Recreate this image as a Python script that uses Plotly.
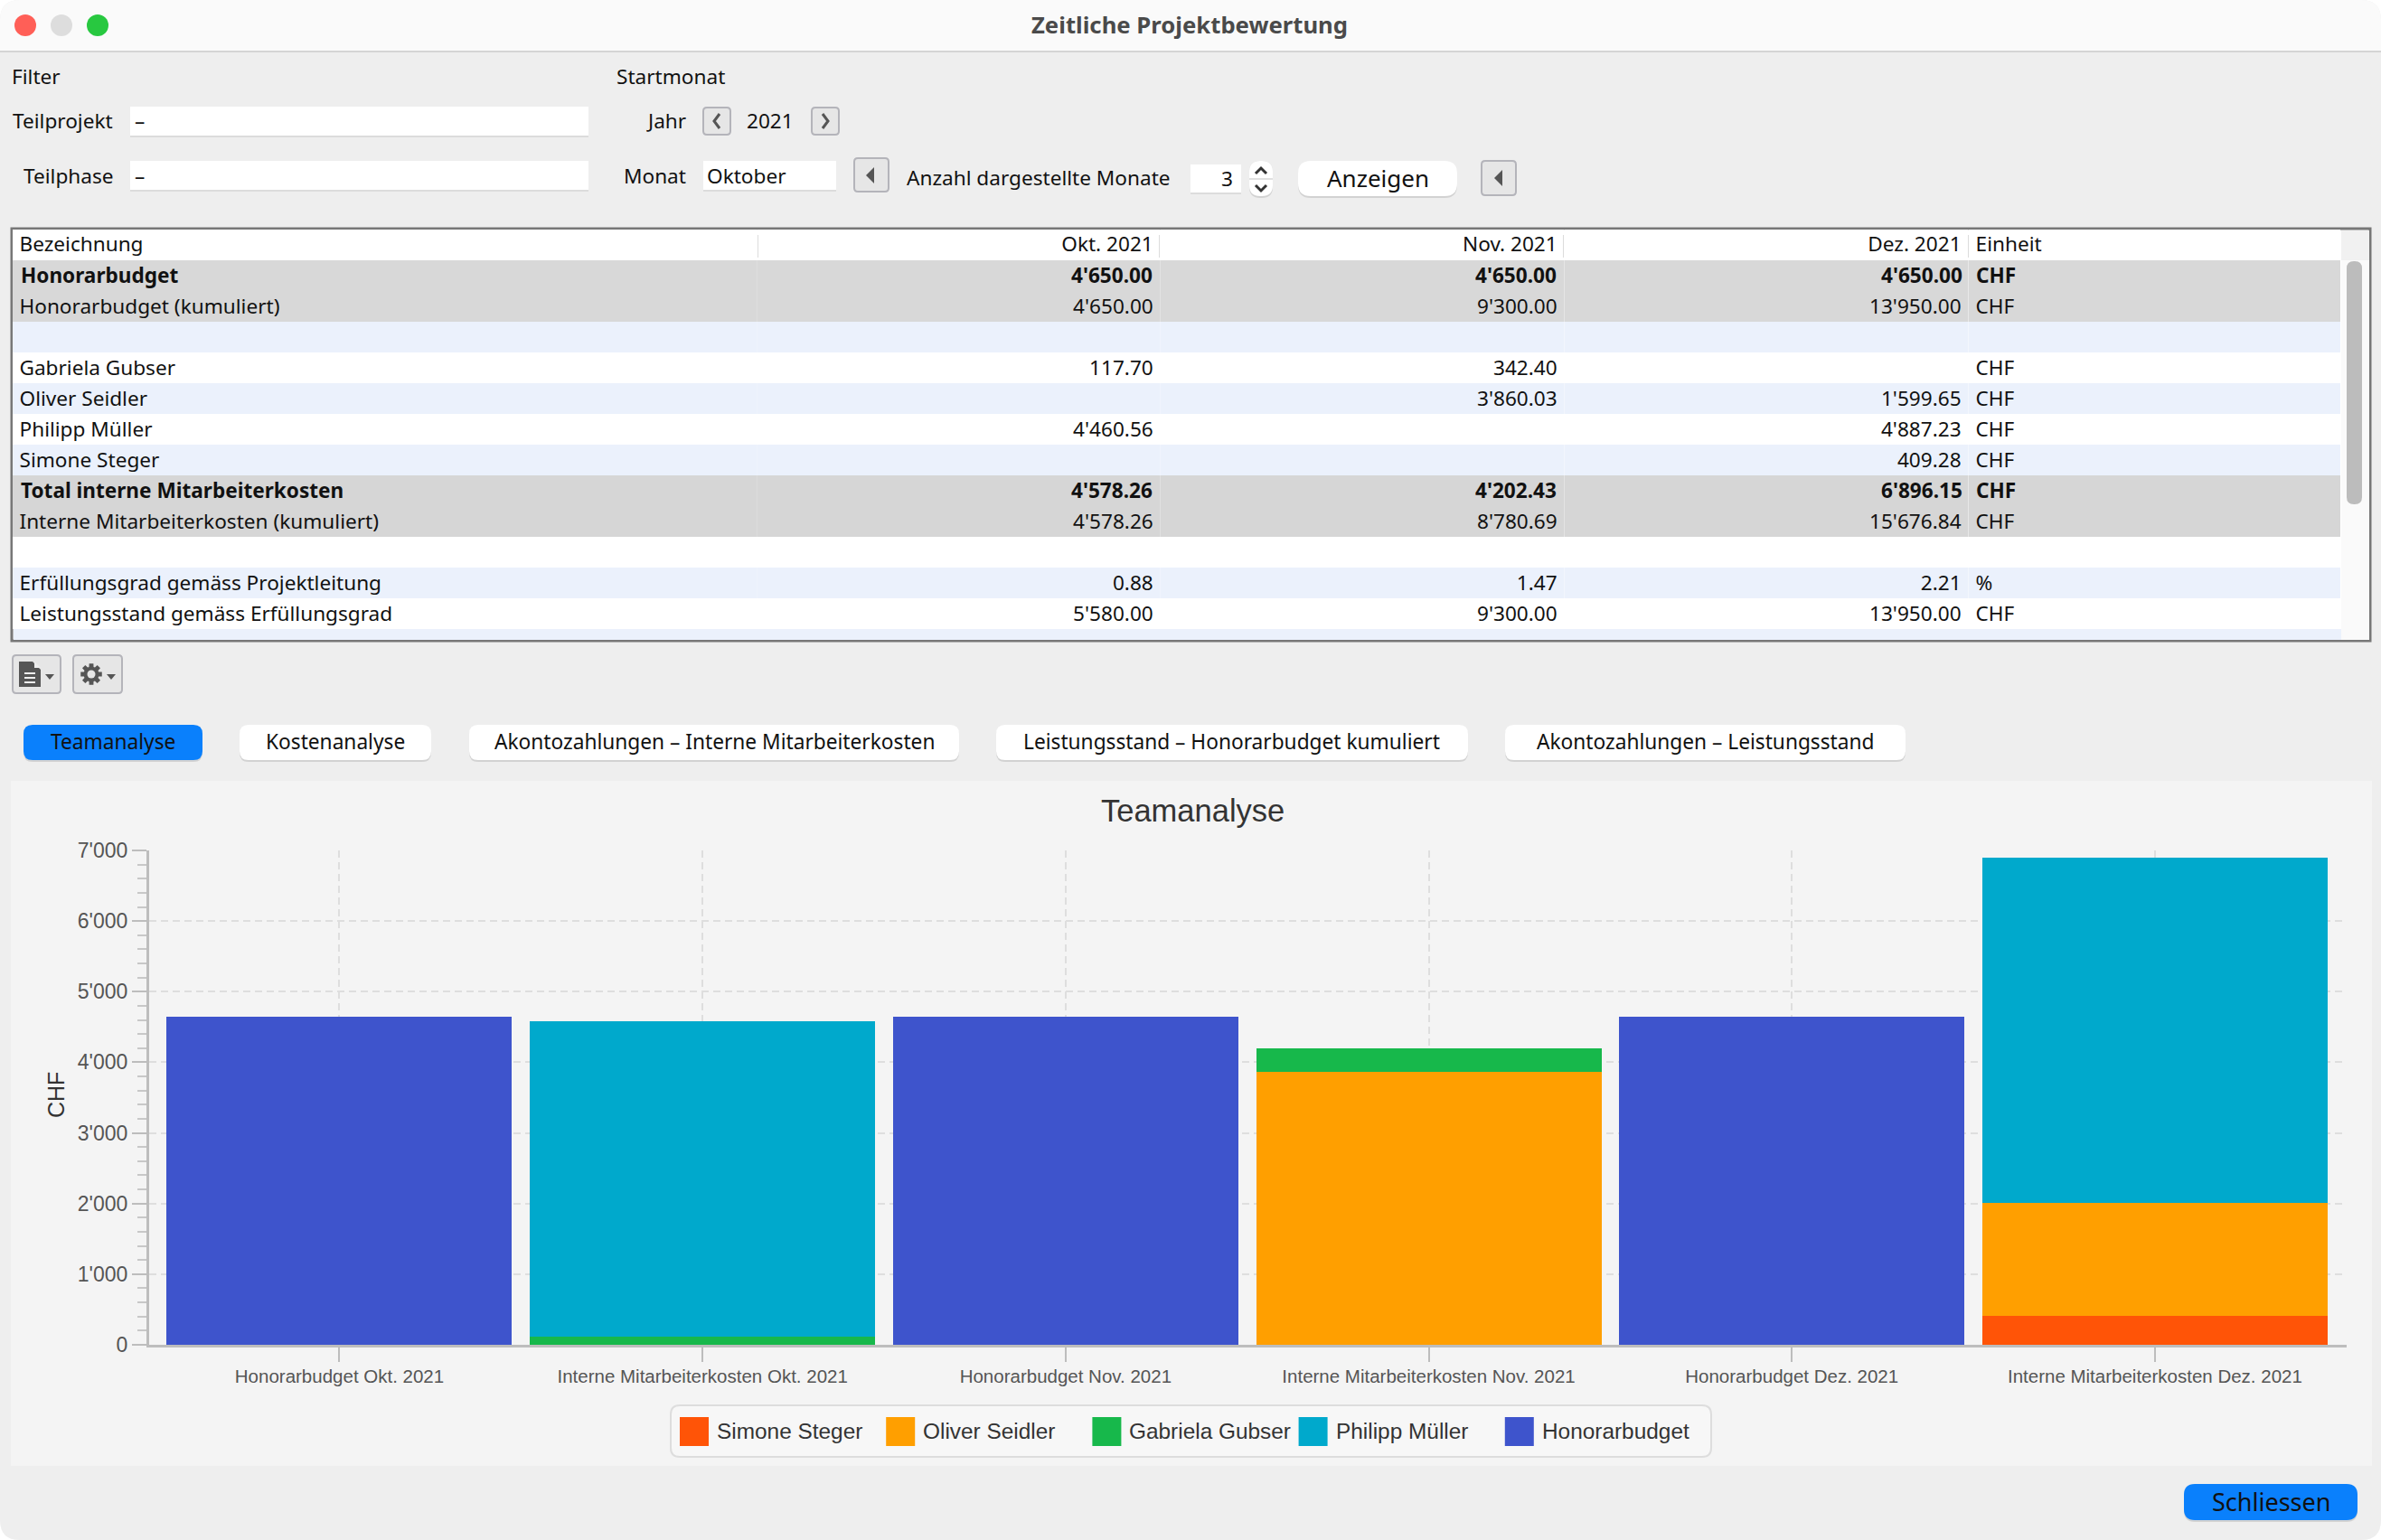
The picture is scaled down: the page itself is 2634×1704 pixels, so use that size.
"""Zeitliche Projektbewertung: dialog window with table and stacked bar chart."""

import math

import plotly.graph_objects as go

WIDTH = 2634
HEIGHT = 1704

# Chart data
bar_labels = [
    'Honorarbudget Okt. 2021', 'Interne Mitarbeiterkosten Okt. 2021',
    'Honorarbudget Nov. 2021', 'Interne Mitarbeiterkosten Nov. 2021',
    'Honorarbudget Dez. 2021', 'Interne Mitarbeiterkosten Dez. 2021',
]
simone_steger = [None, None, None, None, None, 409.28]
oliver_seidler = [None, None, None, 3860.03, None, 1599.65]
gabriela_gubser = [None, 117.70, None, 342.40, None, None]
philipp_mueller = [None, 4460.56, None, None, None, 4887.23]
honorarbudget = [4650.00, None, 4650.00, None, 4650.00, None]

series_names = ['Simone Steger', 'Oliver Seidler', 'Gabriela Gubser',
                'Philipp Müller', 'Honorarbudget']
series_values = [simone_steger, oliver_seidler, gabriela_gubser,
                 philipp_mueller, honorarbudget]
series_colors = ['#FF5407', '#FF9F00', '#17B84B', '#00A9CC', '#3E54CC']

# Table data
table_header = ['Bezeichnung', 'Okt. 2021', 'Nov. 2021', 'Dez. 2021', 'Einheit']
table_names = [
    'Honorarbudget', 'Honorarbudget (kumuliert)', '', 'Gabriela Gubser',
    'Oliver Seidler', 'Philipp Müller', 'Simone Steger',
    'Total interne Mitarbeiterkosten', 'Interne Mitarbeiterkosten (kumuliert)',
    '', 'Erfüllungsgrad gemäss Projektleitung',
    'Leistungsstand gemäss Erfüllungsgrad',
]
table_okt = ["4'650.00", "4'650.00", '', '117.70', '', "4'460.56", '',
             "4'578.26", "4'578.26", '', '0.88', "5'580.00"]
table_nov = ["4'650.00", "9'300.00", '', '342.40', "3'860.03", '', '',
             "4'202.43", "8'780.69", '', '1.47', "9'300.00"]
table_dez = ["4'650.00", "13'950.00", '', '', "1'599.65", "4'887.23", '409.28',
             "6'896.15", "15'676.84", '', '2.21', "13'950.00"]
table_unit = ['CHF', 'CHF', '', 'CHF', 'CHF', 'CHF', 'CHF', 'CHF', 'CHF', '',
              '%', 'CHF']
bold_rows = [0, 7]
row_fills = ['#D8D8D8', '#D8D8D8', '#EBF1FC', '#FFFFFF', '#EBF1FC', '#FFFFFF',
             '#EBF1FC', '#D6D6D6', '#D6D6D6', '#FFFFFF', '#EBF1FC', '#FFFFFF']

UI_FONT = 'Noto Sans'
CHART_FONT = 'Liberation Sans'

shapes = []
annotations = []


def fx(x):
    return x / WIDTH


def fy(y):
    return 1 - y / HEIGHT


def rounded_path(x0, y0, x1, y1, r):
    return (
        f'M{fx(x0 + r)},{fy(y0)} L{fx(x1 - r)},{fy(y0)} '
        f'Q{fx(x1)},{fy(y0)} {fx(x1)},{fy(y0 + r)} '
        f'L{fx(x1)},{fy(y1 - r)} Q{fx(x1)},{fy(y1)} {fx(x1 - r)},{fy(y1)} '
        f'L{fx(x0 + r)},{fy(y1)} Q{fx(x0)},{fy(y1)} {fx(x0)},{fy(y1 - r)} '
        f'L{fx(x0)},{fy(y0 + r)} Q{fx(x0)},{fy(y0)} {fx(x0 + r)},{fy(y0)} Z'
    )


def poly_path(points, close=True):
    path = ' '.join(('M' if i == 0 else 'L') + f'{fx(x)},{fy(y)}'
                    for i, (x, y) in enumerate(points))
    return path + (' Z' if close else '')


def add_rect(x0, y0, x1, y1, fill, r=0, line=None, width=0, layer='below'):
    shapes.append(dict(
        type='path', xref='paper', yref='paper', layer=layer,
        path=rounded_path(x0, y0, x1, y1, r), fillcolor=fill,
        line=dict(color=line or fill, width=width),
    ))


def add_poly(points, fill=None, line=None, width=0, layer='above'):
    closed = fill is not None
    shapes.append(dict(
        type='path', xref='paper', yref='paper', layer=layer,
        path=poly_path(points, close=closed),
        fillcolor=fill if closed else 'rgba(0,0,0,0)',
        line=dict(color=line or 'rgba(0,0,0,0)', width=width),
    ))


def add_circle(cx, cy, r, fill, layer='below'):
    shapes.append(dict(
        type='circle', xref='paper', yref='paper', layer=layer,
        x0=fx(cx - r), x1=fx(cx + r), y0=fy(cy + r), y1=fy(cy - r),
        fillcolor=fill, line=dict(width=0),
    ))


def add_text(x, y, text, size=22.6, color='#111111', anchor='left',
             family=UI_FONT):
    annotations.append(dict(
        xref='paper', yref='paper', x=fx(x), y=fy(y), text=text,
        showarrow=False, xanchor=anchor, yanchor='middle', borderpad=0,
        font=dict(family=family, size=size, color=color),
    ))


def add_button(x0, y0, x1, y1, text, fill='#FFFFFF', r=10, size=22.7):
    add_rect(x0, y0 + 2, x1, y1 + 2, '#D2D2D2', r=r)
    add_rect(x0, y0, x1, y1, fill, r=r)
    add_text((x0 + x1) / 2, (y0 + y1) / 2 - 1, text, size=size, anchor='center')


def add_square_button(x0, y0, x1, y1):
    add_rect(x0, y0, x1, y1, '#E6E6E6', r=4, line='#B4B4BA', width=2)


def add_left_arrow(cx, cy):
    add_poly([(cx + 4, cy - 9), (cx + 4, cy + 9), (cx - 5, cy)], fill='#555555')


def add_gear(cx, cy):
    points = []
    for tooth in range(8):
        angle = tooth * math.pi / 4
        for offset, radius in [(-0.30, 8.5), (-0.20, 12), (0.20, 12), (0.30, 8.5)]:
            points.append((cx + radius * math.cos(angle + offset),
                           cy + radius * math.sin(angle + offset)))
    add_poly(points, fill='#555555')
    add_circle(cx, cy, 4.5, '#E6E6E6', layer='above')


# Window
add_rect(0, 0, WIDTH, HEIGHT, '#EEEEEE', r=22)
add_rect(0, 0, WIDTH, 57, '#FAFAFA', r=22)
add_rect(0, 30, WIDTH, 57, '#FAFAFA')
add_rect(0, 56, WIDTH, 58, '#D4D4D4')
add_circle(28, 28, 12, '#FF5F57')
add_circle(68, 28, 12, '#DDDDDD')
add_circle(108, 28, 12, '#28C840')
add_text(1316, 27, '<b>Zeitliche Projektbewertung</b>', size=25.7,
         color='#4A4A4A', anchor='center')

# Filter area
add_text(12, 84, 'Filter')
add_text(681, 84, 'Startmonat')
add_text(126, 134, 'Teilprojekt', anchor='right')
add_text(126, 194, 'Teilphase', anchor='right')
for y0, y1 in [(118, 150), (178, 210)]:
    add_rect(144, y0, 651, y1 + 2, '#DCDCDC')
    add_rect(144, y0, 651, y1, '#FFFFFF')
    add_text(148, (y0 + y1) / 2, '–')
add_text(760, 134, 'Jahr', anchor='right')
add_square_button(778, 119, 808, 149)
add_poly([(796, 126), (790, 134), (796, 142)], line='#555555', width=3)
add_text(852, 134, '2021', anchor='center')
add_square_button(898, 119, 928, 149)
add_poly([(910, 126), (916, 134), (910, 142)], line='#555555', width=3)
add_text(760, 194, 'Monat', anchor='right')
add_rect(778, 178, 925, 212, '#DCDCDC')
add_rect(778, 178, 925, 210, '#FFFFFF')
add_text(781, 194, 'Oktober')
add_square_button(945, 175, 983, 212)
add_left_arrow(963, 194)
add_text(1002, 197, 'Anzahl dargestellte Monate')
add_rect(1317, 182, 1373, 215, '#DCDCDC')
add_rect(1317, 182, 1373, 213, '#FFFFFF')
add_text(1365, 198, '3', anchor='right')
add_rect(1382, 178, 1408, 219, '#D2D2D2', r=12)
add_rect(1382, 178, 1408, 217, '#FFFFFF', r=12)
add_rect(1382, 197, 1408, 199, '#E0E0E0')
add_poly([(1389, 192), (1395, 186), (1401, 192)], line='#333333', width=3)
add_poly([(1389, 205), (1395, 211), (1401, 205)], line='#333333', width=3)
add_button(1436, 178, 1612, 217, 'Anzeigen', size=26, r=14)
add_square_button(1639, 178, 1677, 216)
add_left_arrow(1658, 197)

# Table frame, the cells themselves are a table trace
add_rect(13, 253, 2622, 709, '#FFFFFF', line='#777777', width=3)
add_rect(12, 252, 2623, 254, '#777777', layer='above')
add_rect(15, 696, 2590, 708, '#EBF1FC')
add_rect(2590, 255, 2621, 288, '#F1F1F1')
add_rect(2590, 288, 2621, 708, '#FAFAFA')
add_rect(2596, 289, 2613, 558, '#BCBCBC', r=8)
for x in [838, 1282, 1729, 2177]:
    add_rect(x, 260, x + 1, 285, '#DCDCDC', layer='above')

# Toolbar icons
add_square_button(14, 725, 67, 767)
add_poly([(21, 732), (36, 732), (45, 741), (45, 760), (21, 760)], fill='#555555')
add_poly([(38, 732), (45, 739), (38, 739)], fill='#EEEEEE')
for y in [745, 750, 755]:
    add_rect(27, y - 1, 39, y + 1, '#EEEEEE', layer='above')
add_poly([(50, 746), (60, 746), (55, 752)], fill='#555555')
add_square_button(81, 725, 135, 767)
add_gear(101, 746)
add_poly([(118, 746), (128, 746), (123, 752)], fill='#555555')

# Tabs
add_button(26, 802, 224, 841, 'Teamanalyse', fill='#0A80FC', r=10)
add_button(265, 802, 477, 841, 'Kostenanalyse', r=10)
add_button(519, 802, 1061, 841, 'Akontozahlungen – Interne Mitarbeiterkosten')
add_button(1102, 802, 1624, 841, 'Leistungsstand – Honorarbudget kumuliert')
add_button(1665, 802, 2108, 841, 'Akontozahlungen – Leistungsstand')

# Chart panel
add_rect(12, 864, 2624, 1622, '#F4F4F4')
add_text(1319, 897, 'Teamanalyse', size=34.5, color='#333333', anchor='center',
         family=CHART_FONT)
annotations.append(dict(
    xref='paper', yref='paper', x=fx(62), y=fy(1212), text='CHF', textangle=-90,
    xanchor='center', yanchor='middle', showarrow=False,
    font=dict(family=CHART_FONT, size=25, color='#333333'),
))

# Legend box, built from the series lists so swatches can keep their big size
add_rect(742, 1555, 1893, 1612, '#F7F7F7', r=10, line='#DDDDDD', width=2)
for i, (name, color) in enumerate(zip(series_names, series_colors)):
    x = 752 + 228.2 * i
    add_rect(x, 1568, x + 32, 1600, color)
    add_text(x + 40, 1583, name, size=24.4, color='#333333', family=CHART_FONT)

# Schliessen
add_button(2416, 1642, 2608, 1682, 'Schliessen', fill='#0A80FC', r=12, size=27)

fig = go.Figure()

for name, values, color in zip(series_names, series_values, series_colors):
    fig.add_trace(go.Bar(
        name=name, x=bar_labels, y=values, marker_color=color,
        marker_line_width=0, showlegend=False,
    ))

# Bold cells make a table row grow, so those rows are written on top instead
columns = [table_names, table_okt, table_nov, table_dez, table_unit]
text_x = [22, 1276, 1723, 2172, 2185]
text_anchor = ['left', 'right', 'right', 'right', 'left']
cell_columns = []
for column, x, anchor in zip(columns, text_x, text_anchor):
    cells = []
    for row, text in enumerate(column):
        if row in bold_rows:
            add_text(x, 288 + 34 * row + 16, f'<b>{text}</b>', anchor=anchor)
            cells.append('')
        else:
            # Non-breaking spaces keep the table from wrapping the text
            cells.append(text.replace(' ', '\u00a0'))
    cell_columns.append(cells)

fig.add_trace(go.Table(
    domain=dict(x=[fx(13.5), fx(2590)], y=[fy(696), fy(253)]),
    columnwidth=[824.5, 446, 447, 447, 412],
    header=dict(
        values=[text.replace(' ', '\u00a0') for text in table_header],
        align=text_anchor, height=35,
        fill_color='#FFFFFF', line_width=0,
        font=dict(family=UI_FONT, size=22.6, color='#111111'),
    ),
    cells=dict(
        values=cell_columns, align=text_anchor, height=34,
        fill_color=[row_fills] * 5, line_width=0,
        font=dict(family=UI_FONT, size=22.6, color='#111111'),
    ),
))

fig.update_layout(
    width=WIDTH, height=HEIGHT, margin=dict(l=0, r=0, t=0, b=0),
    paper_bgcolor='#FFFFFF', plot_bgcolor='rgba(0,0,0,0)',
    barmode='stack', bargap=0.049, separators=".'",
    shapes=shapes, annotations=annotations,
    xaxis=dict(
        domain=[fx(165), fx(2596)], range=[-0.524, 5.528], type='category',
        categoryorder='array', categoryarray=bar_labels,
        showline=True, linecolor='#BDBDBD', linewidth=3,
        ticks='outside', ticklen=16, tickwidth=2, tickcolor='#BDBDBD',
        showgrid=True, gridcolor='#DEDEDE', gridwidth=2, griddash='8px,5px',
        tickfont=dict(family=CHART_FONT, size=20.5, color='#555555'),
        ticklabelstandoff=-2, tickangle=0, automargin=False,
    ),
    yaxis=dict(
        domain=[fy(1488), fy(941)], range=[0, 7000], dtick=1000,
        tickformat=',', showline=True, linecolor='#BDBDBD', linewidth=3,
        ticks='outside', ticklen=16, tickwidth=2, tickcolor='#BDBDBD',
        minor=dict(dtick=200, ticks='outside', ticklen=10, tickwidth=2,
                   tickcolor='#C8C8C8', showgrid=False),
        showgrid=True, gridcolor='#DEDEDE', gridwidth=2, griddash='8px,5px',
        zeroline=False, automargin=False,
        tickfont=dict(family=CHART_FONT, size=23, color='#555555'),
    ),
)

# The page's default body margin would shift the window by 8 px
fig.write_html('out.html', config={'displayModeBar': False},
               post_script="document.body.style.margin = '0';")
